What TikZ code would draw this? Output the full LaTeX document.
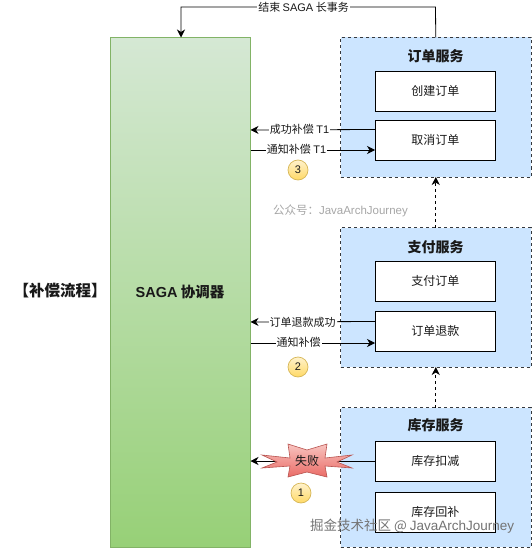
\documentclass[tikz,border=0pt]{standalone}
\usepackage{fontspec}
\setmainfont{Noto Sans CJK SC}
\newfontfamily\latinf{Liberation Sans}
\usetikzlibrary{arrows.meta}
\definecolor{svc}{HTML}{CCE5FF}
\definecolor{svcline}{HTML}{36393D}
\definecolor{gtop}{HTML}{D5E8D4}
\definecolor{gbot}{HTML}{97D077}
\definecolor{gline}{HTML}{82B366}
\definecolor{byline}{HTML}{D6B656}
\definecolor{bytop}{HTML}{FFF2CC}
\definecolor{bybot}{HTML}{FFD966}
\definecolor{startop}{HTML}{F8C4C0}
\definecolor{starbot}{HTML}{EA6B66}
\definecolor{starline}{HTML}{B85450}
\tikzset{
  x=1pt,y=-1pt,
  every node/.style={inner sep=0pt,outer sep=0pt,text=black!90},
  svcbox/.style={draw=svcline,fill=svc,dash pattern=on 3pt off 3pt,line width=.8pt,minimum width=190.5pt,minimum height=139.5pt,anchor=north west},
  opbox/.style={draw=black,fill=white,line width=.9pt,minimum width=120.5pt,minimum height=40pt,anchor=north west,font=\fontsize{12}{14}\selectfont},
  svctitle/.style={font=\fontsize{14}{16}\selectfont\bfseries},
  lbl/.style={fill=white,inner xsep=1pt,inner ysep=1pt,font=\fontsize{11}{13}\selectfont},
  conn/.style={draw=black,line width=.8pt,-{Stealth[length=8pt,width=8pt,inset=2.5pt]}},
  flow/.style={draw=black,line width=.8pt,dash pattern=on 3pt off 3pt,-{Stealth[length=8pt,width=8pt,inset=2.5pt]}},
  badge/.style={circle,draw=byline,top color=bytop,bottom color=bybot,line width=.7pt,minimum size=20pt,font=\fontsize{11}{13}\selectfont\latinf},
}
\begin{document}
\begin{tikzpicture}
\useasboundingbox (0,0) rectangle (531,548);
% SAGA
\node[draw=gline,line width=.8pt,top color=gtop,bottom color=gbot,minimum width=140pt,minimum height=509.5pt,anchor=north west,font=\fontsize{15}{17}\selectfont\bfseries] (saga) at (110.5,37.5) {};
\node[font=\fontsize{14.5}{17}\selectfont\bfseries] (sagat) at (180,292) {{\latinf SAGA} 协调器};
\node[font=\fontsize{15.5}{17}\selectfont\bfseries] (title) at (60,291) {【补偿流程】};
% services
\node[svcbox] (order) at (340.5,37.5) {};
\node[svcbox] (pay) at (340.5,227.5) {};
\node[svcbox] (stock) at (340.5,407.5) {};
\node[svctitle] (ordert) at (435.5,56) {订单服务};
\node[svctitle] (payt) at (435.5,247) {支付服务};
\node[svctitle] (stockt) at (435.5,425) {库存服务};
\node[opbox] (create) at (375,71) {创建订单};
\node[opbox] (cancel) at (375,120) {取消订单};
\node[opbox] (payo) at (375,261) {支付订单};
\node[opbox] (refund) at (375,311) {订单退款};
\node[opbox] (deduct) at (375,441) {库存扣减};
\node[opbox] (restock) at (375,492) {库存回补};
% top connector
\coordinate (topr) at (order.north);
\coordinate (sagatop) at (181,37.5);
\draw[conn] (topr) -- (435.5,7) -- (181,7) -- (sagatop);
\node[lbl] (lend) at (303.5,7) {结束 {\latinf SAGA} 长事务};
% order
\coordinate (a1) at (375,129.5);
\coordinate (a2) at (250.5,130);
\coordinate (a3) at (250.5,150);
\coordinate (a4) at (375,150);
\draw[conn] (a1) -- (a2);
\node[lbl] (l1) at (299.5,129) {成功补偿 {\latinf T1}};
\draw[conn] (a3) -- (a4);
\node[lbl] (l2) at (296.5,149.5) {通知补偿 {\latinf T1}};
% pay
\coordinate (b1c) at (375,321.5);
\coordinate (b2c) at (250.5,322);
\coordinate (b3c) at (250.5,343);
\coordinate (b4c) at (375,343);
\draw[conn] (b1c) -- (b2c);
\node[lbl] (l3) at (302.5,322) {订单退款成功};
\draw[conn] (b3c) -- (b4c);
\node[lbl] (l4) at (298.5,342.5) {通知补偿};
% stock
\coordinate (c1) at (250.5,461);
\draw[conn] (deduct.west) -- (c1);
% flow
\draw[flow] (pay.north) -- (order.south);
\draw[flow] (stock.north) -- (pay.south);
% star
\path[draw=starline,line width=.6pt,top color=startop,bottom color=starbot]
 (262,455) -- (290,458) -- (288,444) -- (307,450) -- (327,444) -- (325,458) -- (352,455) -- (337,462) -- (352,468) -- (325,466) -- (327,477) -- (307,472) -- (288,477) -- (290,466) -- (262,468) -- (277,462) -- cycle;
\node[font=\fontsize{12}{14}\selectfont] (fail) at (307,460.5) {失败};
% badges
\node[badge] (b3) at (298,170) {3};
\node[badge] (b2) at (298,367) {2};
\node[badge] (b1) at (301,493) {1};
% watermarks
\node[text=black!35,font=\fontsize{11.5}{13}\selectfont,anchor=west] (wm1) at (273,211) {公众号：{\latinf JavaArchJourney}};
\node[text=black!55,font=\fontsize{13.5}{15}\selectfont,anchor=west] (wm2) at (310,526) {掘金技术社区 @ {\latinf JavaArchJourney}};
\end{tikzpicture}
\end{document}
